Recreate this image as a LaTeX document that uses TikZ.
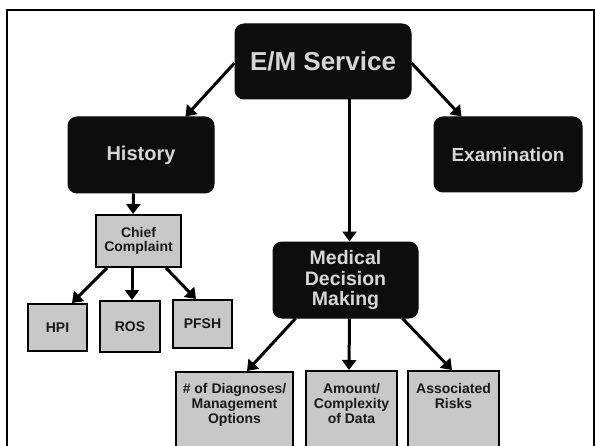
\documentclass[tikz,border=0pt]{standalone}
\usepackage{fontspec}
\setmainfont{Liberation Sans}
\usetikzlibrary{arrows.meta,calc}
\definecolor{boxblack}{HTML}{0D0D0D}
\definecolor{boxgrey}{HTML}{C8C8C8}
\definecolor{lighttext}{HTML}{D6D6D6}
\begin{document}
\begin{tikzpicture}[x=1pt,y=-1pt,
  bbox/.style={fill=boxblack, draw=boxblack, line width=1pt, rounded corners=9pt, text=lighttext, inner sep=0pt, align=center},
  gbox/.style={fill=boxgrey, draw=black, line width=2pt, inner sep=0pt, align=center, text=black!90, font=\bfseries\fontsize{14}{15}\selectfont},
  gtext/.style={inner sep=0pt, align=center, text=black!90, font=\bfseries\fontsize{14}{15}\selectfont},
  arr/.style={line width=3pt, -{Triangle[length=10pt,width=14pt]}},
]
\useasboundingbox (0,0) rectangle (596,446);
\clip (0,0) rectangle (596,446);
\fill[white] (0,0) rectangle (596,446);
% frame
\draw[line width=2.5pt] (7,470) -- (7,10) -- (594,10) -- (594,470);

% black boxes
\node[bbox, minimum width=176, minimum height=75, font=\bfseries\fontsize{26}{28}\selectfont] (em) at (323,61.5) {E/M Service};
\node[bbox, minimum width=146, minimum height=76, font=\bfseries\fontsize{20}{22}\selectfont] (hist) at (141,155) {History};
\node[bbox, minimum width=148, minimum height=75, font=\bfseries\fontsize{19}{21}\selectfont] (exam) at (508,154.5) {Examination};
\node[bbox, minimum width=145, minimum height=76, font=\bfseries\fontsize{19.5}{20}\selectfont] (mdm) at (345.5,280) {Medical\\Decision\\Making};

% grey boxes
\node[gbox, minimum width=85, minimum height=52, font=\bfseries\fontsize{14}{14}\selectfont] (chief) at (138.5,241) {Chief\\Complaint};
\node[gbox, minimum width=59, minimum height=47] (hpi) at (57.5,327.5) {HPI};
\node[gbox, minimum width=60, minimum height=51] (ros) at (130,326.5) {ROS};
\node[gbox, minimum width=59, minimum height=48] (pfsh) at (202.5,324) {PFSH};

\node[gbox, minimum width=117, minimum height=100, anchor=north] (diag) at (234.5,371) {};
\node[gbox, minimum width=91, minimum height=100, anchor=north] (amount) at (351.5,370) {};
\node[gbox, minimum width=91, minimum height=100, anchor=north] (assoc) at (453.5,370) {};
\node[gtext, anchor=north] (diagt) at (234.5,383) {\# of Diagnoses/\\Management\\Options};
\node[gtext, anchor=north] (amountt) at (351.5,383) {Amount/\\Complexity\\of Data};
\node[gtext, anchor=north] (assoct) at (453.5,383) {Associated\\Risks};

% arrows
\draw[arr] ($(em.west)+(0,1.5)$) -- ($(hist.north east)+(-29,0)$);
\draw[arr] ($(em.east)+(0,1.5)$) -- ($(exam.north west)+(28,0)$);
\draw[arr] ($(em.south west)+(115,0)$) -- ($(mdm.north west)+(77,0)$);
\draw[arr] ($(hist.south west)+(66,0)$) -- ($(chief.north west)+(38,0)$);
\draw[arr] ($(chief.south west)+(12,0)$) -- ($(hpi.north west)+(45,0)$);
\draw[arr] ($(chief.south west)+(37,0)$) -- ($(ros.north west)+(33,0)$);
\draw[arr] ($(chief.south west)+(71,0)$) -- ($(pfsh.north west)+(24,0)$);
\draw[arr] ($(mdm.south west)+(23,0)$) -- ($(diag.north west)+(72,0)$);
\draw[arr] ($(mdm.south west)+(77,0)$) -- ($(amount.north west)+(44,0)$);
\draw[arr] ($(mdm.south west)+(130,0)$) -- ($(assoc.north west)+(45,0)$);
\end{tikzpicture}
\end{document}
